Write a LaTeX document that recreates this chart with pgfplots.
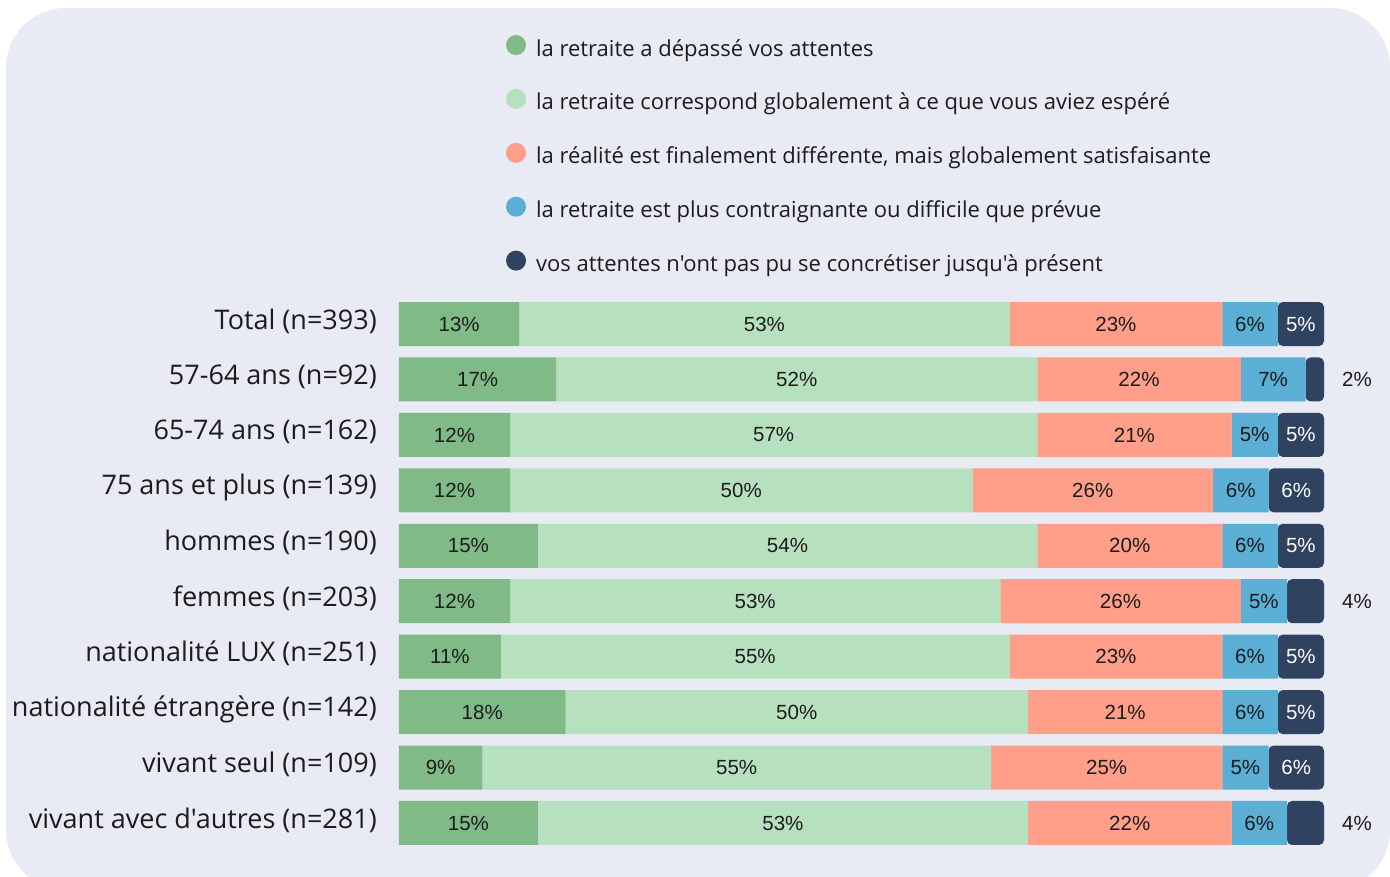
\documentclass[border=0pt]{standalone}
\usepackage{pgfplots}
\pgfplotsset{compat=1.18}
\usepackage{pgfplotstable}
\usepackage{fontspec}
\setmainfont{Open Sans}[Ligatures=TeXOff]
\newfontfamily\barfont{Liberation Sans}
\definecolor{bg}{RGB}{232,234,244}
\definecolor{cA}{RGB}{127,186,135}
\definecolor{cB}{RGB}{183,224,190}
\definecolor{cC}{RGB}{255,159,138}
\definecolor{cD}{RGB}{91,174,212}
\definecolor{cE}{RGB}{47,66,96}
\definecolor{txt}{RGB}{28,28,28}

\pgfplotstableread{
row a b c d e
0 13 53 23 6 5
1 17 52 22 7 2
2 12 57 21 5 5
3 12 50 26 6 6
4 15 54 20 6 5
5 12 53 26 5 4
6 11 55 23 6 5
7 18 50 21 6 5
8 9 55 25 5 6
9 15 53 22 6 4
}\datatable

\pgfplotsset{
  segcalc/.code={%
    \pgfkeys{/pgf/fpu=true,/pgf/fpu/output format=fixed}%
    \pgfmathparse{\pgfplotspointmeta}%
    \edef\segval{\pgfmathresult}%
    \pgfmathparse{33+4.625*\pgfplotspointmeta}%
    \edef\segout{\pgfmathresult}%
    \pgfkeys{/pgf/fpu=false}%
    \ifdim\segval pt<4.5pt
      \gdef\segcol{txt}\xdef\segshift{\segout}%
    \else
      \gdef\segcol{#1}\gdef\segshift{0}%
    \fi
  },
  seglab/.style={
    nodes near coords={\pgfmathprintnumber[assume math mode=true]{\pgfplotspointmeta}\%},
    every node near coord/.style={/pgfplots/segcalc=#1, xshift=\segshift pt,
      anchor=center, font=\barfont\fontsize{20.5}{24}\selectfont, text=\segcol, inner sep=0pt},
  },
}

\begin{document}
\begin{tikzpicture}[x=1pt,y=1pt]
\useasboundingbox (0,0) rectangle (1390,-877);
\fill[bg, rounded corners=60pt] (6,-8) rectangle (1390,-890);
\begin{axis}[
  at={(399pt,-296.3pt)}, anchor=north west,
  scale only axis, width=925pt, height=554.4pt,
  xmin=0, xmax=100, ymin=-0.5, ymax=9.5, y dir=reverse,
  xbar stacked, bar width=44pt,
  axis line style={draw=none},
  xtick=\empty, ytick={0,...,9},
  yticklabels={Total (n=393), 57-64 ans (n=92), 65-74 ans (n=162), 75 ans et plus (n=139),
    hommes (n=190), femmes (n=203), nationalité LUX (n=251), nationalité étrangère (n=142),
    vivant seul (n=109), vivant avec d'autres (n=281)},
  major tick length=0pt,
  yticklabel style={font=\fontsize{27}{32}\selectfont, text=txt, inner sep=0pt, xshift=-22pt, yshift=3pt},
  legend style={at={(0.1157,1.4713)}, anchor=north west, draw=none, fill=none,
    inner sep=0pt, outer sep=0pt, font=\fontsize{22}{26}\selectfont, text=txt,
    nodes={inner sep=0pt, anchor=west, text height=15pt, text depth=5pt},
    column sep=10pt, row sep=27.9pt},
  legend cell align=left,
]
\addplot[fill=cA, draw=none, seglab=txt,
  legend image code/.code={\fill[cA] (0pt,6pt) circle (10pt);}] table[x=a, y=row] {\datatable};
\addlegendentry{la retraite a dépassé vos attentes}
\addplot[fill=cB, draw=none, seglab=txt,
  legend image code/.code={\fill[cB] (0pt,6pt) circle (10pt);}] table[x=b, y=row] {\datatable};
\addlegendentry{la retraite correspond globalement à ce que vous aviez espéré}
\addplot[fill=cC, draw=none, seglab=txt,
  legend image code/.code={\fill[cC] (0pt,6pt) circle (10pt);}] table[x=c, y=row] {\datatable};
\addlegendentry{la réalité est finalement différente, mais globalement satisfaisante}
\addplot[fill=cD, draw=none, seglab=txt,
  legend image code/.code={\fill[cD] (0pt,6pt) circle (10pt);}] table[x=d, y=row] {\datatable};
\addlegendentry{la retraite est plus contraignante ou difficile que prévue}
\addplot[fill=cE, draw=none, rounded corners=5pt, seglab=white,
  legend image code/.code={\fill[cE] (0pt,6pt) circle (10pt);}] table[x=e, y=row] {\datatable};
\addlegendentry{vos attentes n'ont pas pu se concrétiser jusqu'à présent}
\end{axis}
\end{tikzpicture}
\end{document}
